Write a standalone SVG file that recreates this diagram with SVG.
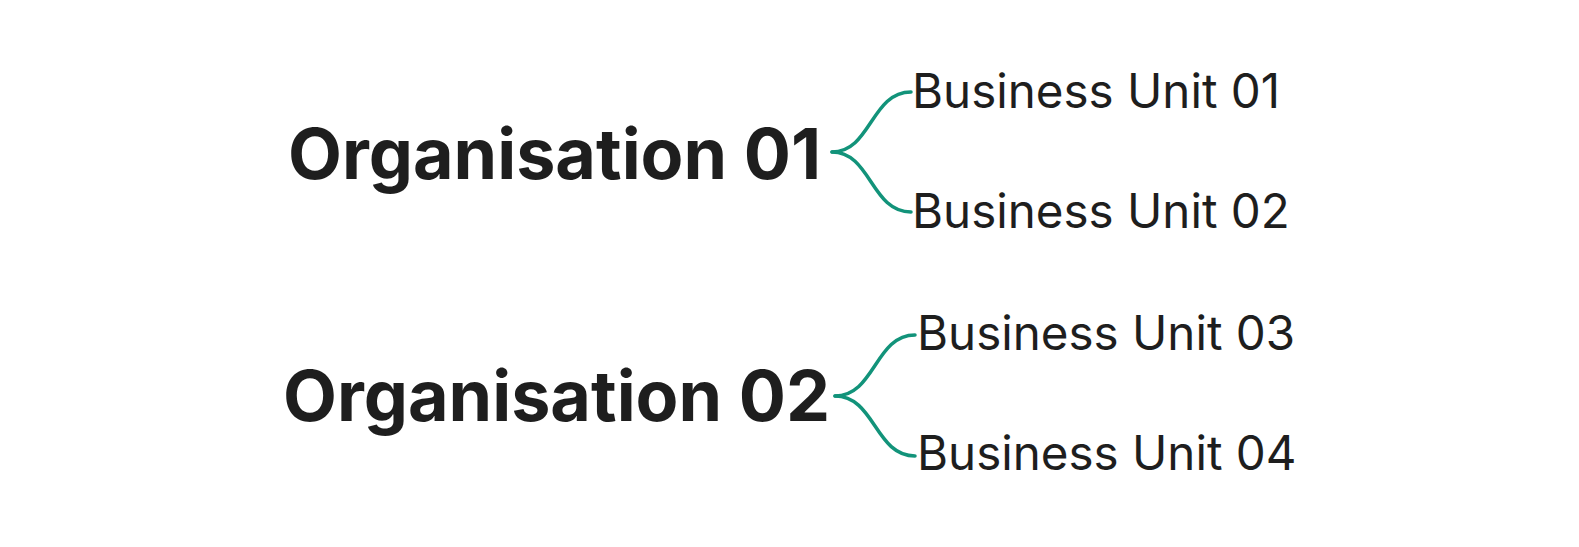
<svg xmlns="http://www.w3.org/2000/svg" width="1579" height="547" viewBox="0 0 1579 547">
<style>
.org{font-family:Inter,"Noto Sans",sans-serif;font-weight:700;font-size:70px;fill:#1e1e1e}
.bu{font-family:Inter,"Noto Sans",sans-serif;font-weight:400;font-size:47.5px;fill:#1e1e1e}
.con{fill:none;stroke:#12937a;stroke-width:3.5;stroke-linecap:round}
</style>
<rect width="1579" height="547" fill="#ffffff"/>
<g id="connectors">
<path class="con" d="M832 152 C871 152 871 92 911 92"/>
<path class="con" d="M832 152 C871 152 871 212 911 212"/>
<path class="con" d="M835 396 C875 396 875 335 915 335"/>
<path class="con" d="M835 396 C875 396 875 456 915 456"/>
</g>
<g id="org1"><text class="org" x="288" y="179">Organisation 01</text></g>
<g id="bu1"><text class="bu" x="912" y="108">Business Unit 01</text></g>
<g id="bu2"><text class="bu" x="912" y="228">Business Unit 02</text></g>
<g id="org2"><text class="org" x="283" y="421">Organisation 02</text></g>
<g id="bu3"><text class="bu" x="917" y="350">Business Unit 03</text></g>
<g id="bu4"><text class="bu" x="917" y="470">Business Unit 04</text></g>
</svg>
